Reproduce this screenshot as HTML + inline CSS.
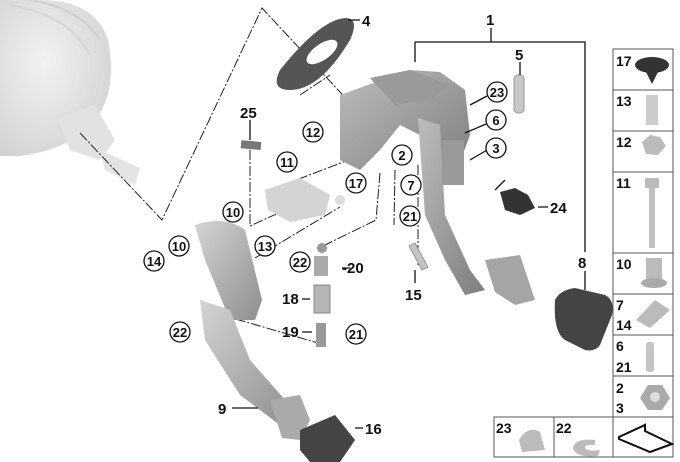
<!DOCTYPE html>
<html><head><meta charset="utf-8"><style>
html,body{margin:0;padding:0;background:#fff;width:680px;height:462px;overflow:hidden}
svg{display:block}
text{font-family:"Liberation Sans",sans-serif;font-weight:bold;fill:#111}
</style></head><body>
<svg width="680" height="462" viewBox="0 0 680 462" xmlns="http://www.w3.org/2000/svg">
<defs>
<linearGradient id="g1" x1="0" y1="0" x2="1" y2="1"><stop offset="0" stop-color="#bdbdbd"/><stop offset="1" stop-color="#7d7d7d"/></linearGradient>
<linearGradient id="g2" x1="0" y1="0" x2="1" y2="1"><stop offset="0" stop-color="#d4d4d4"/><stop offset="1" stop-color="#8e8e8e"/></linearGradient>
<radialGradient id="gb" cx="0.4" cy="0.4" r="0.7"><stop offset="0" stop-color="#f2f2f2"/><stop offset="1" stop-color="#d2d2d2"/></radialGradient>
</defs>
<!-- brake booster -->
<path d="M0,0 L40,0 Q95,0 108,40 Q118,90 95,120 Q70,150 20,156 L0,156 Z" fill="url(#gb)"/>
<path d="M30,0 Q80,8 100,40" stroke="#cfcfcf" stroke-width="2" fill="none"/>
<path d="M10,5 Q70,15 90,55" stroke="#d6d6d6" stroke-width="2" fill="none"/>
<path d="M58,118 L95,105 L115,140 L100,160 L70,150 Z" fill="#e2e2e2"/>
<path d="M100,150 L140,168 L135,185 L105,170 Z" fill="#e4e4e4"/>
<!-- dash-dot lines -->
<g stroke="#222" stroke-width="1" fill="none" stroke-dasharray="10,2,2,2">
<path d="M80,133 L162,220 L262,8 L352,105"/>
<path d="M300,95 L330,75"/>
<path d="M250,150 L250,226 L285,210"/>
<path d="M283,185 L375,150"/>
<path d="M255,258 L340,207"/>
<path d="M380,173 L376,220 L325,245"/>
<path d="M395,170 L394,225"/>
<path d="M205,310 L325,345"/>
<path d="M418,165 L418,265"/>
</g>
<!-- part 4 washer -->
<path d="M280,70 Q320,20 345,18 Q360,18 350,40 Q320,90 290,90 Q270,90 280,70 Z" fill="#555"/>
<ellipse cx="322" cy="52" rx="18" ry="8" transform="rotate(-35 322 52)" fill="#fff"/>
<!-- main bracket -->
<path d="M340,95 L410,70 L440,72 L465,90 L470,135 L455,175 L440,175 L430,140 L400,125 L380,150 L360,170 L340,160 Z" fill="url(#g1)"/>
<path d="M370,78 L410,70 L450,85 L430,100 L395,105 Z" fill="#9a9a9a"/>
<path d="M418,118 L440,125 L445,215 L470,270 L485,290 L465,295 L445,260 L425,215 Z" fill="url(#g1)"/>
<path d="M485,260 L520,255 L535,300 L515,305 L495,292 Z" fill="#a5a5a5"/>
<rect x="442" y="140" width="22" height="45" fill="#999"/>
<rect x="514" y="75" width="10" height="38" rx="4" fill="#c8c8c8" stroke="#999"/>
<path d="M415,243 L428,267 L422,270 L409,246 Z" fill="#c4c4c4" stroke="#999"/>
<path d="M500,192 L515,188 L528,195 L535,208 L520,215 L505,210 Z" fill="#333"/>
<path d="M555,300 Q560,290 575,288 L605,295 Q615,300 612,315 L600,345 Q595,352 585,350 L565,340 Q553,332 555,300 Z" fill="#444"/>
<rect x="241" y="141" width="20" height="8" fill="#777" transform="rotate(5 250 145)"/>
<path d="M265,190 L300,178 L330,195 L325,215 L290,222 L268,210 Z" fill="#d4d4d4"/>
<circle cx="340" cy="200" r="5" fill="#ddd"/>
<!-- clutch pedal -->
<path d="M195,225 Q225,215 245,230 L262,300 L255,320 L230,320 L205,260 Z" fill="url(#g2)"/>
<path d="M200,300 L230,310 L250,360 L285,400 L295,420 L280,425 L240,395 L205,340 Z" fill="url(#g2)"/>
<path d="M270,400 L300,395 L310,420 L300,440 L282,438 Z" fill="#aaa"/>
<path d="M300,430 L335,415 L355,440 L340,462 L310,462 L300,450 Z" fill="#444"/>
<rect x="314" y="256" width="14" height="20" fill="#aaa"/>
<circle cx="322" cy="248" r="5" fill="#999"/>
<rect x="314" y="285" width="16" height="28" fill="#b5b5b5" stroke="#888"/>
<rect x="316" y="323" width="10" height="24" fill="#999"/>
<g stroke="#111" stroke-width="1.3" fill="none">
<path d="M491,28 L491,42 M415,42 L585,42 L585,252 M415,42 L415,62"/>
<path d="M585,271 L585,290"/>
<path d="M348,20 L360,20 M520,62 L520,75"/>
<path d="M250,120 L250,140 M538,207 L548,207 M342,268 L350,268 M302,299 L310,299 M302,332 L312,332 M415,283 L415,270 M232,408 L258,408 M355,428 L363,428"/>
<path d="M487,96 L470,105 M486,124 L465,133 M487,150 L470,160 M505,180 L495,190"/>
</g>
<g font-size="15">
<text x="486" y="25">1</text><text x="362" y="26">4</text><text x="515" y="60">5</text>
<text x="240" y="118">25</text><text x="342" y="273">-20</text><text x="282" y="304">18</text>
<text x="282" y="337">19</text><text x="405" y="300">15</text><text x="550" y="213">24</text>
<text x="578" y="268">8</text><text x="218" y="414">9</text><text x="365" y="434">16</text>
</g>
<g font-size="13" text-anchor="middle">
<g fill="#fff" stroke="#111" stroke-width="1.3">
<circle cx="497" cy="92" r="10"/><circle cx="496" cy="120" r="10"/><circle cx="496" cy="148" r="10"/>
<circle cx="402" cy="155" r="10"/><circle cx="411" cy="185" r="10"/><circle cx="410" cy="216" r="10"/>
<circle cx="313" cy="132" r="10"/><circle cx="287" cy="162" r="10"/><circle cx="356" cy="183" r="10"/>
<circle cx="233" cy="212" r="10"/><circle cx="179" cy="246" r="10"/><circle cx="154" cy="261" r="10"/>
<circle cx="265" cy="246" r="10"/><circle cx="300" cy="262" r="10"/><circle cx="180" cy="332" r="10"/>
<circle cx="356" cy="334" r="10"/>
</g>
<text x="497" y="97">23</text><text x="496" y="125">6</text><text x="496" y="153">3</text>
<text x="402" y="160">2</text><text x="411" y="190">7</text><text x="410" y="221">21</text>
<text x="313" y="137">12</text><text x="287" y="167">11</text><text x="356" y="188">17</text>
<text x="233" y="217">10</text><text x="179" y="251">10</text><text x="154" y="266">14</text>
<text x="265" y="251">13</text><text x="300" y="267">22</text><text x="180" y="337">22</text>
<text x="356" y="339">21</text>
</g>
<g stroke="#555" stroke-width="1" fill="none">
<rect x="613" y="49" width="60" height="368"/>
<path d="M613,90 H673 M613,131 H673 M613,172 H673 M613,253 H673 M613,294 H673 M613,335 H673 M613,376 H673"/>
<rect x="494" y="417" width="179" height="40"/>
<path d="M554,417 V457 M613,417 V457"/>
</g>
<g font-size="14">
<text x="616" y="66">17</text><text x="616" y="106">13</text><text x="616" y="147">12</text>
<text x="616" y="188">11</text><text x="616" y="269">10</text><text x="616" y="310">7</text>
<text x="616" y="330">14</text><text x="616" y="351">6</text><text x="616" y="372">21</text>
<text x="616" y="393">2</text><text x="616" y="413">3</text><text x="496" y="433">23</text>
<text x="556" y="433">22</text>
</g>
<g>
<ellipse cx="652" cy="65" rx="17" ry="8" fill="#333"/><path d="M645,70 L659,70 L652,84 Z" fill="#333"/>
<rect x="646" y="95" width="12" height="30" fill="#ccc"/>
<path d="M642,142 L650,135 L660,137 L666,146 L658,155 L646,154 Z" fill="#bbb"/>
<rect x="645" y="178" width="14" height="10" fill="#bbb"/><rect x="649" y="188" width="6" height="60" fill="#c0c0c0"/>
<rect x="646" y="258" width="16" height="22" fill="#bbb"/><ellipse cx="654" cy="283" rx="13" ry="5" fill="#aaa"/>
<path d="M636,320 L655,300 L670,310 L650,328 Z" fill="#bbb"/>
<rect x="646" y="342" width="8" height="30" rx="3" fill="#c4c4c4"/>
<path d="M640,398 L648,385 L662,385 L670,398 L662,410 L648,410 Z" fill="#aaa"/><circle cx="655" cy="397" r="5" fill="#ddd"/>
<path d="M519,440 Q528,425 540,432 L545,450 L522,452 Z" fill="#bbb"/>
<path d="M573,448 Q575,438 595,440 L595,445 Q585,444 585,448 Q588,452 600,450 L598,456 Q575,458 573,448 Z" fill="#bbb"/>
<path d="M619,437 L645,425 L645,431 L672,444 L650,452 L619,439 Z" fill="#fff" stroke="#111" stroke-width="2"/>
</g>
</svg>
</body></html>
